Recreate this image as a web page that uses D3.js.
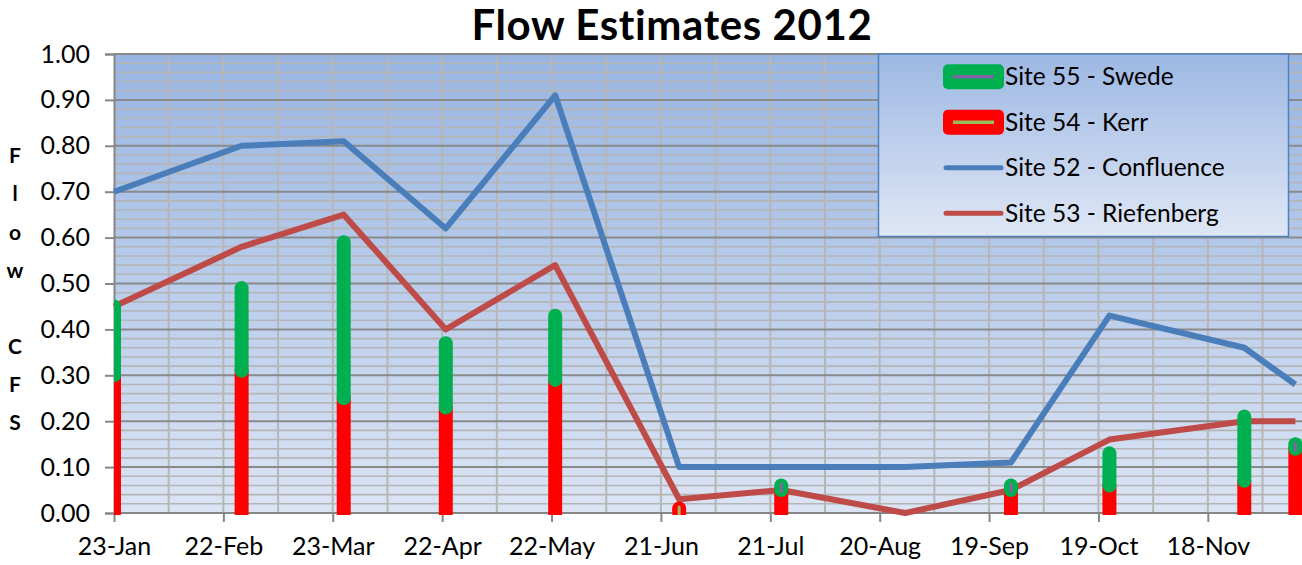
<!DOCTYPE html>
<html>
<head>
<meta charset="utf-8">
<script src="https://cdn.jsdelivr.net/npm/d3@7"></script>
<style>
  body { margin: 0; background: #fff; }
  text { font-family: Lato, "Open Sans", sans-serif; fill: #000; }
</style>
</head>
<body>
<svg width="1302" height="565"></svg>
<script>
const svg = d3.select("svg");

// DATA
const sampleDates = ["2012-01-23", "2012-02-27", "2012-03-26", "2012-04-23", "2012-05-23", "2012-06-26",
  "2012-07-24", "2012-08-27", "2012-09-25", "2012-10-22", "2012-11-28", "2012-12-12"];
const confluence = [0.70, 0.80, 0.81, 0.62, 0.91, 0.10, 0.10, 0.10, 0.11, 0.43, 0.36, 0.28];
const riefenberg = [0.45, 0.58, 0.65, 0.40, 0.54, 0.03, 0.05, 0.00, 0.05, 0.16, 0.20, 0.20];
const kerr = [0.30, 0.31, 0.25, 0.23, 0.29, 0.01, 0.05, null, 0.05, 0.06, 0.07, 0.14];
const swede = [0.15, 0.18, 0.34, 0.14, 0.14, null, 0.01, null, 0.01, 0.07, 0.14, 0.01];
const yTicks = [0, 0.1, 0.2, 0.3, 0.4, 0.5, 0.6, 0.7, 0.8, 0.9, 1.0];
const axisStart = "2012-01-23";
const axisEnd = "2012-12-13";
const yTitle = ["F", "l", "o", "w", "", "C", "F", "S"];
const legendItems = [
  { name: "Site 55 - Swede", type: "bar", fill: "#00b050", inner: "#8064a2" },
  { name: "Site 54 - Kerr", type: "bar", fill: "#ff0000", inner: "#9bbb59" },
  { name: "Site 52 - Confluence", type: "line", stroke: "#4a7ebb" },
  { name: "Site 53 - Riefenberg", type: "line", stroke: "#be4b48" }
];

// CONSTANTS
const plot = { left: 114, top: 54, right: 1299, bottom: 513 };
const parse = d3.utcParse("%Y-%m-%d");
const dates = sampleDates.map(parse);
const day = 24 * 3600 * 1000;

// SCALES
const xScale = d3.scaleUtc().domain([parse(axisStart), parse(axisEnd)]).range([plot.left, plot.right]);
const yScale = d3.scaleLinear().domain([0, 1]).range([plot.bottom, plot.top]);

const defs = svg.append("defs");
const bg = defs.append("linearGradient").attr("id", "bg").attr("x1", 0).attr("y1", 0).attr("x2", 0).attr("y2", 1);
bg.append("stop").attr("offset", "0%").attr("stop-color", "#98b5e2");
bg.append("stop").attr("offset", "100%").attr("stop-color", "#dbe4f4");
const lg = defs.append("linearGradient").attr("id", "lg").attr("x1", 0).attr("y1", 0).attr("x2", 0).attr("y2", 1);
lg.append("stop").attr("offset", "0%").attr("stop-color", "#9db8e3");
lg.append("stop").attr("offset", "100%").attr("stop-color", "#dfe7f5");
defs.append("clipPath").attr("id", "clip")
  .append("rect").attr("x", plot.left).attr("y", plot.top - 10).attr("width", 1302 - plot.left).attr("height", plot.bottom - plot.top + 12);

// plot background
svg.append("rect")
  .attr("x", plot.left).attr("y", plot.top)
  .attr("width", 1302 - plot.left).attr("height", plot.bottom - plot.top)
  .attr("fill", "url(#bg)");

// horizontal grid (minor every 0.02, major every 0.1)
const minor = d3.range(0, 51).map(i => i / 50);
svg.append("g").selectAll("line").data(minor.filter((d, i) => i % 5 !== 0)).join("line")
  .attr("x1", plot.left).attr("x2", 1302)
  .attr("y1", d => yScale(d)).attr("y2", d => yScale(d))
  .attr("stroke", "#b5b5b5").attr("stroke-width", 1.6);

// vertical grid every 15 days
const vDates = d3.range(15, 330, 15).map(n => new Date(+parse(axisStart) + n * day));
svg.append("g").selectAll("line").data(vDates).join("line")
  .attr("x1", d => xScale(d)).attr("x2", d => xScale(d))
  .attr("y1", plot.top).attr("y2", plot.bottom)
  .attr("stroke", "#b6b6b6").attr("stroke-width", 2);

svg.append("g").selectAll("line").data(yTicks.slice(1)).join("line")
  .attr("x1", plot.left).attr("x2", 1302)
  .attr("y1", d => yScale(d)).attr("y2", d => yScale(d))
  .attr("stroke", "#8a8a8a").attr("stroke-width", 2);

// AXES
const yAxis = svg.append("g")
  .attr("transform", `translate(${plot.left},0)`)
  .call(d3.axisLeft(yScale).tickValues(yTicks).tickFormat(d3.format(".2f")).tickSize(9).tickPadding(15));
const xTicks = d3.range(0, 301, 30).map(n => new Date(+parse(axisStart) + n * day));
const xAxis = svg.append("g")
  .attr("transform", `translate(0,${plot.bottom})`)
  .call(d3.axisBottom(xScale).tickValues(xTicks).tickFormat(d3.utcFormat("%-d-%b")).tickSize(9).tickPadding(15));
xAxis.select(".domain").attr("d", `M${plot.left},0H1302`);
[yAxis, xAxis].forEach(a => {
  a.selectAll(".domain, line").attr("stroke", "#868686").attr("stroke-width", 2);
  a.selectAll("text").attr("font-size", 25).attr("font-family", "Lato");
});

// LINES
const line = d3.line().x((d, i) => xScale(dates[i])).y(d => yScale(d));
[[confluence, "#4a7ebb"], [riefenberg, "#be4b48"]].forEach(([vals, col]) => {
  svg.append("path").datum(vals)
    .attr("d", line)
    .attr("fill", "none").attr("stroke", col).attr("stroke-width", 6)
    .attr("stroke-linejoin", "round");
});

// stacked bars: Kerr (red) below, Swede (green) above
const barG = svg.append("g").attr("clip-path", "url(#clip)");
const segs = [];
dates.forEach((d, i) => {
  if (kerr[i] != null) segs.push({ date: d, y0: 0, y1: kerr[i], fill: "#ff0000", inner: "#9bbb59" });
  if (swede[i] != null) segs.push({ date: d, y0: kerr[i] || 0, y1: (kerr[i] || 0) + swede[i], fill: "#00b050", inner: "#8064a2" });
});
barG.selectAll("line.seg").data(segs).join("line")
  .attr("class", "seg")
  .attr("x1", d => xScale(d.date)).attr("x2", d => xScale(d.date))
  .attr("y1", d => yScale(d.y0)).attr("y2", d => yScale(d.y1))
  .attr("stroke", d => d.fill).attr("stroke-width", 14).attr("stroke-linecap", "round");
// the thin series line only shows through on very short segments
barG.selectAll("line.inner").data(segs.filter(d => d.y1 - d.y0 < 0.02)).join("line")
  .attr("class", "inner")
  .attr("x1", d => xScale(d.date)).attr("x2", d => xScale(d.date))
  .attr("y1", d => yScale(d.y0) + 1.5).attr("y2", d => yScale(d.y1) - 1.5)
  .attr("stroke", d => d.inner).attr("stroke-width", 3).attr("stroke-linecap", "round");

// TITLE
svg.append("text")
  .attr("x", 672).attr("y", 40)
  .attr("text-anchor", "middle")
  .attr("font-size", 42).attr("font-weight", "bold")
  .attr("letter-spacing", 0.6)
  .text("Flow Estimates 2012");

svg.append("g").selectAll("text").data(yTitle).join("text")
  .attr("x", 15).attr("y", (d, i) => 156 + i * 38.1)
  .attr("dy", "0.35em")
  .attr("text-anchor", "middle")
  .attr("font-size", 21).attr("font-weight", "bold")
  .text(d => d);

// LEGEND
const legend = svg.append("g");
legend.append("rect")
  .attr("x", 878.5).attr("y", 54).attr("width", 410).attr("height", 182.5)
  .attr("fill", "url(#lg)").attr("stroke", "#4f81bd").attr("stroke-width", 1.5);
const rows = legend.selectAll("g").data(legendItems).join("g")
  .attr("transform", (d, i) => `translate(0,${76.7 + i * 45.5})`);
rows.filter(d => d.type === "bar").append("rect")
  .attr("x", 943).attr("y", -12.5).attr("width", 61).attr("height", 25).attr("rx", 5)
  .attr("fill", d => d.fill);
rows.filter(d => d.type === "bar").append("line")
  .attr("x1", 953).attr("x2", 994).attr("y1", 0).attr("y2", 0)
  .attr("stroke", d => d.inner).attr("stroke-width", 3.5);
rows.filter(d => d.type === "line").append("line")
  .attr("x1", 946).attr("x2", 1001).attr("y1", 0).attr("y2", 0)
  .attr("stroke", d => d.stroke).attr("stroke-width", 5).attr("stroke-linecap", "round");
rows.append("text")
  .attr("x", 1005).attr("dy", "0.35em")
  .attr("font-size", 24.5)
  .text(d => d.name);
</script>
</body>
</html>
